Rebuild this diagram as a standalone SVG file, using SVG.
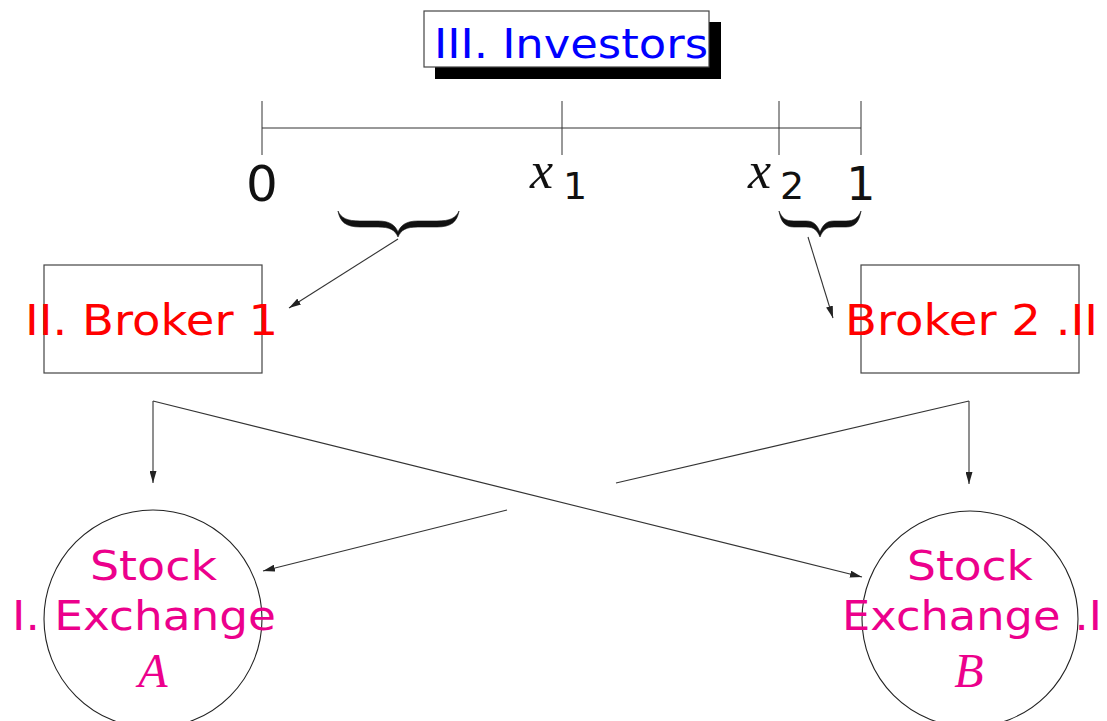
<svg xmlns="http://www.w3.org/2000/svg" width="1107" height="721" viewBox="0 0 1107 721">
  <style>
    .box { fill: #ffffff; stroke: #444444; stroke-width: 1.2; }
    .ring { fill: none; stroke: #222222; stroke-width: 1.1; }
    .edge { fill: none; stroke: #333333; stroke-width: 1.1; }
    .axis { fill: none; stroke: #333333; stroke-width: 1; }
    .brace { fill: #111111; stroke: #111111; stroke-width: 0.6; }
    .sans { font-family: "DejaVu Sans", "Liberation Sans", sans-serif; }
    .ital { font-family: "Liberation Serif", "DejaVu Serif", serif; font-style: italic; }
    .blue { fill: #0000ff; }
    .red { fill: #ff0000; }
    .mag { fill: #ec008c; }
    .num { fill: #111111; }
  </style>
  <defs>
    <marker id="arrow" viewBox="0 0 12 7" refX="12" refY="3.5" markerWidth="12" markerHeight="7" markerUnits="userSpaceOnUse" orient="auto">
      <path d="M0,0 L12,3.5 L0,7 Z" fill="#222222"/>
    </marker>
  </defs>

  <!-- top node: investors with drop shadow -->
  <g id="investors">
    <rect x="435" y="22" width="286" height="57" fill="#000000"/>
    <rect class="box" x="424" y="11" width="285" height="56"/>
    <text class="sans blue" x="434" y="58" font-size="40" textLength="274" lengthAdjust="spacingAndGlyphs">III. Investors</text>
  </g>

  <!-- unit interval with cut points -->
  <g id="interval">
    <line class="axis" x1="262" y1="128" x2="861" y2="128"/>
    <line class="axis" x1="262" y1="101" x2="262" y2="155"/>
    <line class="axis" x1="562" y1="101" x2="562" y2="155"/>
    <line class="axis" x1="779" y1="101" x2="779" y2="155"/>
    <line class="axis" x1="861" y1="101" x2="861" y2="155"/>
    <text class="sans num" x="262" y="201" font-size="50" text-anchor="middle">0</text>
    <text class="ital num" x="530" y="188" font-size="52">x</text>
    <text class="sans num" x="563" y="199" font-size="38">1</text>
    <text class="ital num" x="748" y="188" font-size="52">x</text>
    <text class="sans num" x="780" y="199" font-size="38">2</text>
    <text class="sans num" x="861" y="200" font-size="46" text-anchor="middle">1</text>
  </g>

  <!-- braces under the two investor segments -->
  <g id="brace-left">
    <path class="brace" d="M338,211 C340,222 346,227 360,227 L378,227 C390,227 395,230 398,237 C401,230 406,227 418,227 L437,227 C451,227 457,222 459,211 C456,218 450,221 437,221 L418,221 C406,221 401,225 398,232 C395,225 390,221 378,221 L360,221 C347,221 341,218 338,211 Z"/>
  </g>
  <g id="brace-right">
    <path class="brace" d="M779,211 C781,222 785,227 794,227 L806,227 C814,227 817,230 820,237 C823,230 826,227 834,227 L846,227 C855,227 859,222 861,211 C858,218 854,221 846,221 L834,221 C826,221 823,225 820,232 C817,225 814,221 806,221 L794,221 C785,221 782,218 779,211 Z"/>
  </g>

  <!-- brokers -->
  <g id="broker1">
    <rect class="box" x="44" y="265" width="218" height="108"/>
    <text class="sans red" x="25" y="335" font-size="43" textLength="253" lengthAdjust="spacingAndGlyphs">II. Broker 1</text>
  </g>
  <g id="broker2">
    <rect class="box" x="861" y="265" width="218" height="108"/>
    <text class="sans red" x="845" y="335" font-size="43" textLength="253" lengthAdjust="spacingAndGlyphs">Broker 2 .II</text>
  </g>

  <!-- exchanges -->
  <g id="exchangeA">
    <circle class="ring" cx="153" cy="619" r="109"/>
    <text class="sans mag" x="90" y="580" font-size="41" textLength="127" lengthAdjust="spacingAndGlyphs">Stock</text>
    <text class="sans mag" x="12" y="630" font-size="41" textLength="264" lengthAdjust="spacingAndGlyphs">I. Exchange</text>
    <text class="ital mag" x="153" y="687" font-size="48" text-anchor="middle">A</text>
  </g>
  <g id="exchangeB">
    <circle class="ring" cx="970" cy="619" r="108"/>
    <text class="sans mag" x="907" y="580" font-size="41" textLength="126" lengthAdjust="spacingAndGlyphs">Stock</text>
    <text class="sans mag" x="842" y="630" font-size="41" textLength="260" lengthAdjust="spacingAndGlyphs">Exchange .I</text>
    <text class="ital mag" x="969" y="687" font-size="48" text-anchor="middle">B</text>
  </g>

  <!-- connectors -->
  <g id="connectors">
    <line class="edge" x1="398" y1="239" x2="289" y2="308" marker-end="url(#arrow)"/>
    <line class="edge" x1="808" y1="237" x2="833" y2="318" marker-end="url(#arrow)"/>
    <polyline class="edge" points="153,401 153,483" marker-end="url(#arrow)"/>
    <polyline class="edge" points="153,401 862,577" marker-end="url(#arrow)"/>
    <polyline class="edge" points="969,401 969,484" marker-end="url(#arrow)"/>
    <line class="edge" x1="969" y1="401" x2="616" y2="483"/>
    <line class="edge" x1="507" y1="510" x2="263" y2="571" marker-end="url(#arrow)"/>
  </g>
</svg>
